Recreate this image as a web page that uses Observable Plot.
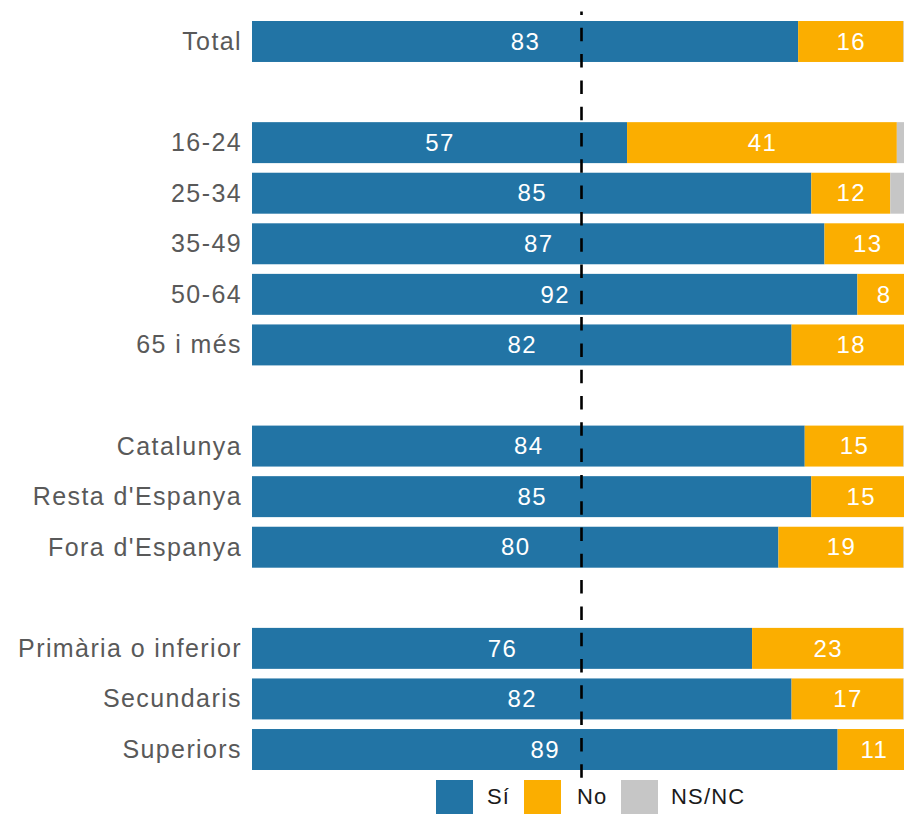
<!DOCTYPE html>
<html>
<head>
<meta charset="utf-8">
<script src="https://cdn.jsdelivr.net/npm/d3@7"></script>
<script src="https://cdn.jsdelivr.net/npm/@observablehq/plot@0.6"></script>
<style>
  body { margin: 0; background: #fff; font-family: "Liberation Sans", Arial, sans-serif; }
  #chart svg { display: block; }
  #legend { position: relative; width: 904px; height: 34px; }
  #legend .sw { position: absolute; top: 0; width: 37px; height: 34px; }
  #legend .lb { position: absolute; top: 5px; font-size: 22px; letter-spacing: 1.2px; color: #1a1a1a; line-height: 24px; }
</style>
</head>
<body>
<div id="chart"></div>
<div id="legend"></div>
<script>
// Categories (in display order)
const groups = ["Total", "16-24", "25-34", "35-49", "50-64", "65 i més",
  "Catalunya", "Resta d'Espanya", "Fora d'Espanya",
  "Primària o inferior", "Secundaris", "Superiors"];
// Row layout with empty spacer rows between blocks
const rowOrder = ["Total", "gap1", "16-24", "25-34", "35-49", "50-64", "65 i més", "gap2",
  "Catalunya", "Resta d'Espanya", "Fora d'Espanya", "gap3",
  "Primària o inferior", "Secundaris", "Superiors"];
// Series values (%)
const si   = [83, 57, 85, 87, 92, 82, 84, 85, 80, 76, 82, 89];
const no   = [16, 41, 12, 13,  8, 18, 15, 15, 19, 23, 17, 11];
const nsnc = [ 1,  2,  3,  0,  0,  0,  1,  0,  1,  1,  1,  0];
const answers = ["Sí", "No", "NS/NC"];
const colors = ["#2274a5", "#fbae00", "#c6c6c6"];

const series = [si, no, nsnc];
const data = groups.flatMap((g, i) => answers.map((a, j) => ({group: g, answer: a, value: series[j][i]})));

const plot = Plot.plot({
  width: 904,
  height: 780,
  marginLeft: 252,
  marginRight: -6,
  marginTop: 11.4,
  marginBottom: 0.4,
  x: {domain: [0, 100], range: [252, 910], axis: null},
  y: {domain: rowOrder, padding: 0.19, round: false, axis: null},
  color: {domain: answers, range: colors},
  style: {
    fontFamily: "'Liberation Sans', Arial, sans-serif",
    fontSize: "25px",
    letterSpacing: "1.4px",
    color: "#595959",
    background: "#fff",
    overflow: "hidden"
  },
  marks: [
    Plot.barX(data, Plot.stackX({x: "value", y: "group", fill: "answer", z: "answer"})),
    Plot.text(data.filter(d => d.answer !== "NS/NC"),
      Plot.stackX({x: "value", y: "group", z: "answer", text: d => String(d.value), fill: "white", fontSize: 24})),
    Plot.ruleX([50], {stroke: "black", strokeWidth: 2.6, strokeDasharray: "13.5,12.8", strokeDashoffset: 9.9}),
    Plot.axisY(groups, {tickSize: 0, tickPadding: 10.5, fontSize: 25, label: null})
  ]
});
document.getElementById("chart").appendChild(plot);

// Legend
const legend = document.getElementById("legend");
const swatchX = [436, 524, 621];
const labelX = [487, 577, 671];
answers.forEach((a, i) => {
  const sw = document.createElement("div");
  sw.className = "sw";
  sw.style.left = swatchX[i] + "px";
  sw.style.background = colors[i];
  legend.appendChild(sw);
  const lb = document.createElement("span");
  lb.className = "lb";
  lb.style.left = labelX[i] + "px";
  lb.textContent = a;
  legend.appendChild(lb);
});
</script>
</body>
</html>
